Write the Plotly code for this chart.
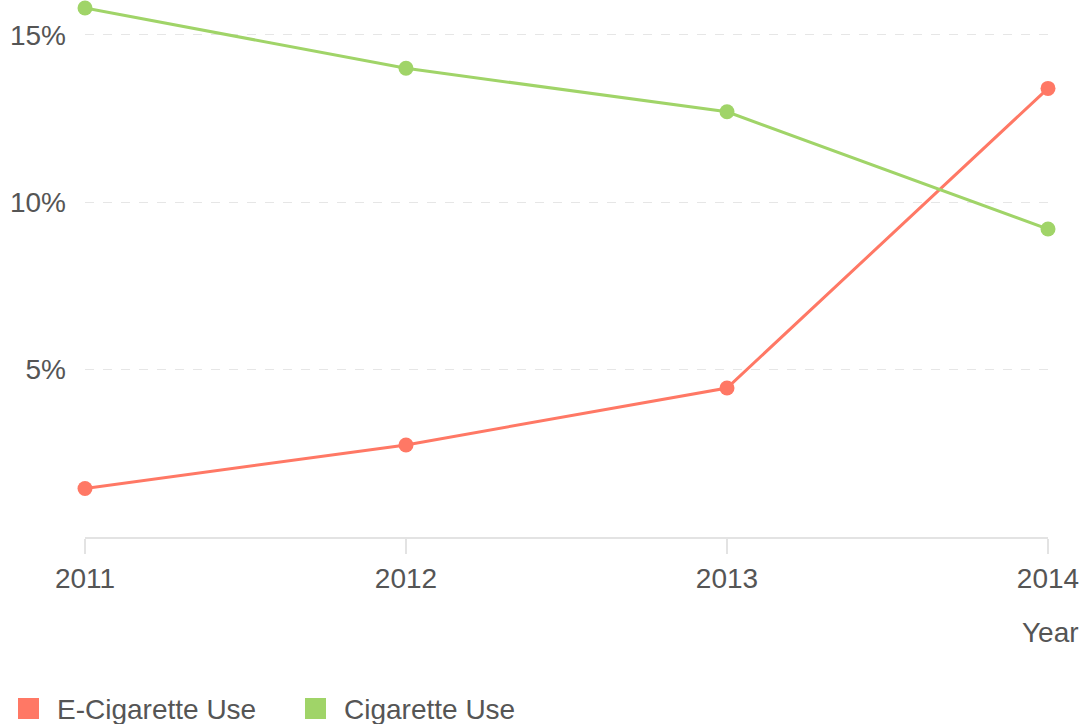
import plotly.graph_objects as go

years = ["2011", "2012", "2013", "2014"]
ecig = [1.45, 2.75, 4.45, 13.4]
cig = [15.8, 14.0, 12.7, 9.2]
series_names = ["E-Cigarette Use", "Cigarette Use"]
colors = ["#FF7865", "#A0D468"]
ytick_vals = [5, 10, 15]
ytick_text = ["5%", "10%", "15%"]

fig = go.Figure()
for name, vals, col in zip(series_names, [ecig, cig], colors):
    fig.add_trace(go.Scatter(
        x=years, y=vals, mode="lines+markers", name=name,
        line=dict(color=col, width=3),
        marker=dict(color=col, size=15),
        showlegend=False, cliponaxis=False,
    ))
    fig.add_trace(go.Scatter(
        x=[None], y=[None], mode="markers", name=name,
        marker=dict(color=col, size=16, symbol="square",
                    line=dict(color=col, width=9)),
        showlegend=True,
    ))

fig.update_layout(
    width=1082, height=724,
    margin=dict(l=85, r=34, t=0, b=187),
    paper_bgcolor="white", plot_bgcolor="white",
    font=dict(family="Liberation Sans, Arial, sans-serif", size=28, color="#555555"),
    xaxis=dict(
        type="category", range=[0, 3],
        showgrid=False, showline=True, linecolor="#E3E3E3", linewidth=2,
        ticks="outside", ticklen=15, tickcolor="#E3E3E3", tickwidth=2,
        tickfont=dict(size=28, color="#555555"), zeroline=False,
    ),
    yaxis=dict(
        range=[0, 16.04], tickvals=ytick_vals, ticktext=ytick_text,
        showgrid=True, gridcolor="#E6E6E6", griddash="dash", gridwidth=1,
        zeroline=False, showline=False, ticks="",
        tickfont=dict(size=28, color="#555555"), ticklabelstandoff=18,
    ),
    legend=dict(
        orientation="h", xref="container", yref="container",
        x=0, xanchor="left", y=0.021, yanchor="middle",
        font=dict(size=28, color="#555555"), itemwidth=47,
        entrywidth=225, tracegroupgap=0,
    ),
    annotations=[dict(
        text="Year", xref="paper", yref="paper", x=1, y=0,
        xanchor="right", yanchor="middle", xshift=33, yshift=-95,
        showarrow=False, font=dict(size=28, color="#555555"),
    )],
)

fig.write_html("out.html", config={"displayModeBar": False},
               post_script="document.body.style.margin='0';")
